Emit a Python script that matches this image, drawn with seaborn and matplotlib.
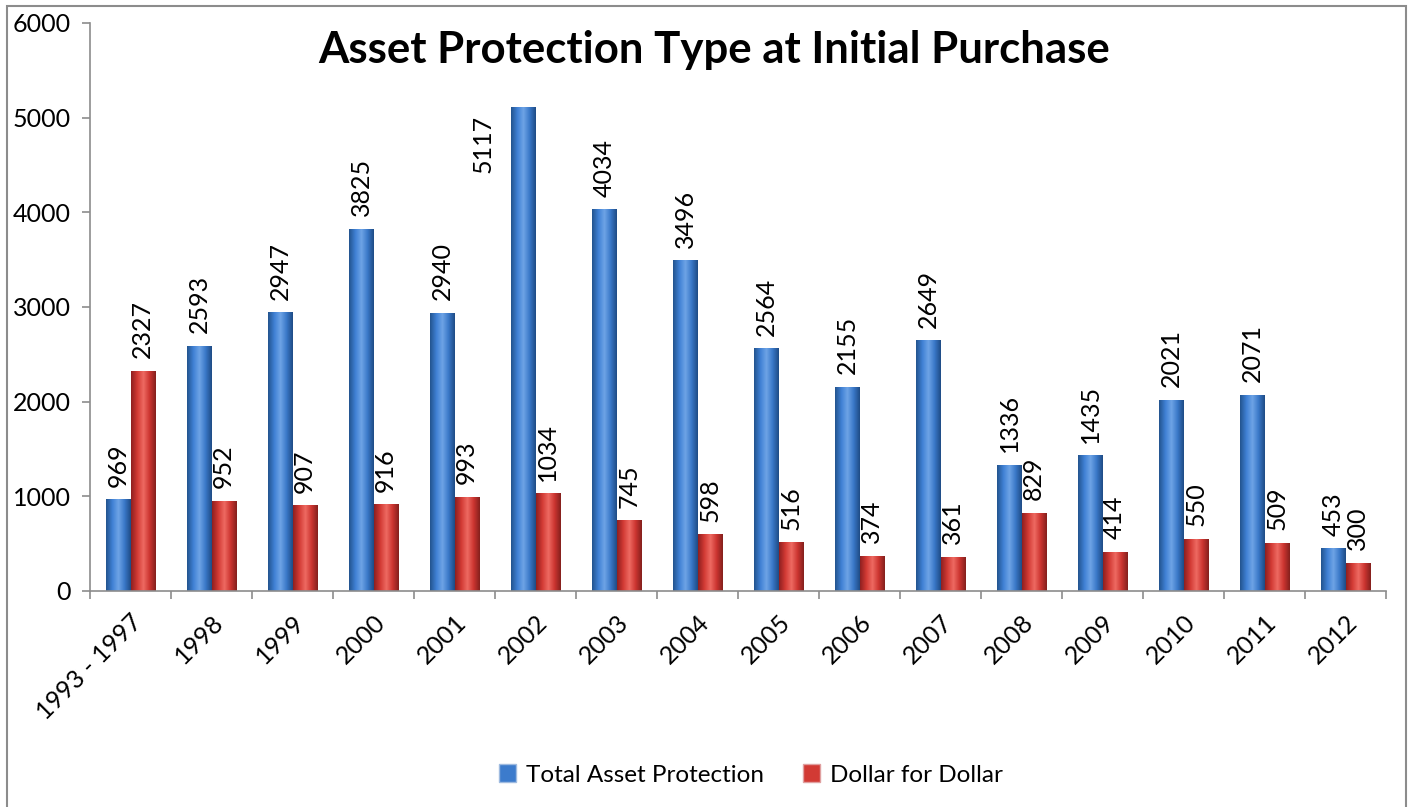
import matplotlib
matplotlib.use("Agg")
import matplotlib.pyplot as plt
import matplotlib.patches as mpatches
from matplotlib.colors import LinearSegmentedColormap
import seaborn as sns
import pandas as pd
import numpy as np

years = ["1993 - 1997", "1998", "1999", "2000", "2001", "2002", "2003", "2004",
         "2005", "2006", "2007", "2008", "2009", "2010", "2011", "2012"]
total_asset = [969, 2593, 2947, 3825, 2940, 5117, 4034, 3496,
               2564, 2155, 2649, 1336, 1435, 2021, 2071, 453]
dollar_for_dollar = [2327, 952, 907, 916, 993, 1034, 745, 598,
                     516, 374, 361, 829, 414, 550, 509, 300]
series_names = ["Total Asset Protection", "Dollar for Dollar"]

sns.set_style("white")
plt.rcParams["font.family"] = ["Lato", "DejaVu Sans"]
plt.rcParams["text.color"] = "black"
plt.rcParams["xtick.color"] = "black"
plt.rcParams["ytick.color"] = "black"

df = pd.DataFrame({
    "year": years * 2,
    "value": total_asset + dollar_for_dollar,
    "series": [series_names[0]] * len(years) + [series_names[1]] * len(years),
})

blue = "#3c7bcc"
red = "#d23a34"

fig = plt.figure(figsize=(14.09, 8.07), dpi=100)
ax = fig.add_axes([90 / 1409, 1 - 591 / 807, 1296 / 1409, 568 / 807])

sns.barplot(data=df, x="year", y="value", hue="series", order=years,
            hue_order=series_names, palette=[blue, red], width=0.6,
            saturation=1, legend=False, ax=ax)

# cylinder-like shading on each bar
shade = {
    blue: LinearSegmentedColormap.from_list("b", ["#23548f", "#3f80d4", "#6ea4e6", "#3a78c8", "#1f4c86"]),
    red: LinearSegmentedColormap.from_list("r", ["#8f2020", "#d23a34", "#ee6a62", "#cc3530", "#85201d"]),
}
grad = np.linspace(0, 1, 64).reshape(1, -1)
bars = [p for p in ax.patches if p.get_height() > 0]
for p in bars:
    fc = matplotlib.colors.to_hex(p.get_facecolor())
    cmap = shade[blue] if fc == blue else shade[red]
    x0, w, h = p.get_x(), p.get_width(), p.get_height()
    im = ax.imshow(grad, cmap=cmap, aspect="auto", extent=(x0, x0 + w, 0, h),
                   zorder=p.get_zorder() + 0.1)
    im.set_clip_path(p)
    p.set_edgecolor("none")

ax.set_xlim(-0.5, len(years) - 0.5)
ax.set_ylim(0, 6000)
ax.set_yticks(range(0, 6001, 1000))
ax.set_xlabel("")
ax.set_ylabel("")

# data labels (the tallest one sits beside its bar, below the title)
n = len(years)
for container, vals in zip(ax.containers, [total_asset, dollar_for_dollar]):
    for rect, v in zip(container, vals):
        xc = rect.get_x() + rect.get_width() / 2
        if v > 5000:
            ax.annotate(str(v), (xc, v), xytext=(-29, -27), textcoords="offset points",
                        rotation=90, ha="center", va="center", fontsize=18, zorder=5)
        else:
            ax.annotate(str(v), (xc, v), xytext=(0, 9), textcoords="offset points",
                        rotation=90, ha="center", va="bottom", fontsize=18, zorder=5)

for s in ["top", "right"]:
    ax.spines[s].set_visible(False)
for s in ["left", "bottom"]:
    ax.spines[s].set_color("#8c8c8c")
    ax.spines[s].set_linewidth(1.2)

ax.tick_params(axis="y", length=6, width=1.2, color="#8c8c8c", pad=8, labelsize=18, left=True)
ax.set_xticks(np.arange(n))
ax.set_xticklabels(years, rotation=45, ha="right", rotation_mode="anchor", fontsize=18)
ax.set_xticks(np.arange(-0.5, n, 1), minor=True)
ax.tick_params(axis="x", which="major", length=0, pad=14)
ax.tick_params(axis="x", which="minor", length=6, width=1.2, color="#8c8c8c", bottom=True)

fig.text(714 / 1409, 1 - 50 / 807, "Asset Protection Type at Initial Purchase",
         ha="center", va="center", fontsize=31.5, fontweight="bold")

handles = [mpatches.Patch(facecolor=blue, edgecolor="#9fbbe0"),
           mpatches.Patch(facecolor=red, edgecolor="#e0a0a0")]
fig.legend(handles, series_names, loc="center", bbox_to_anchor=(751 / 1409, 1 - 775 / 807),
           ncol=2, frameon=False, fontsize=17.5, handlelength=0.7, handleheight=0.7,
           handletextpad=0.4, columnspacing=1.6)

fig.add_artist(mpatches.Rectangle((7 / 1409, -0.01), 1399 / 1409, 1 - 6 / 807 + 0.01,
                                  transform=fig.transFigure, fill=False,
                                  edgecolor="#8c8c8c", linewidth=1.5))

fig.savefig("out.png", dpi=100)
